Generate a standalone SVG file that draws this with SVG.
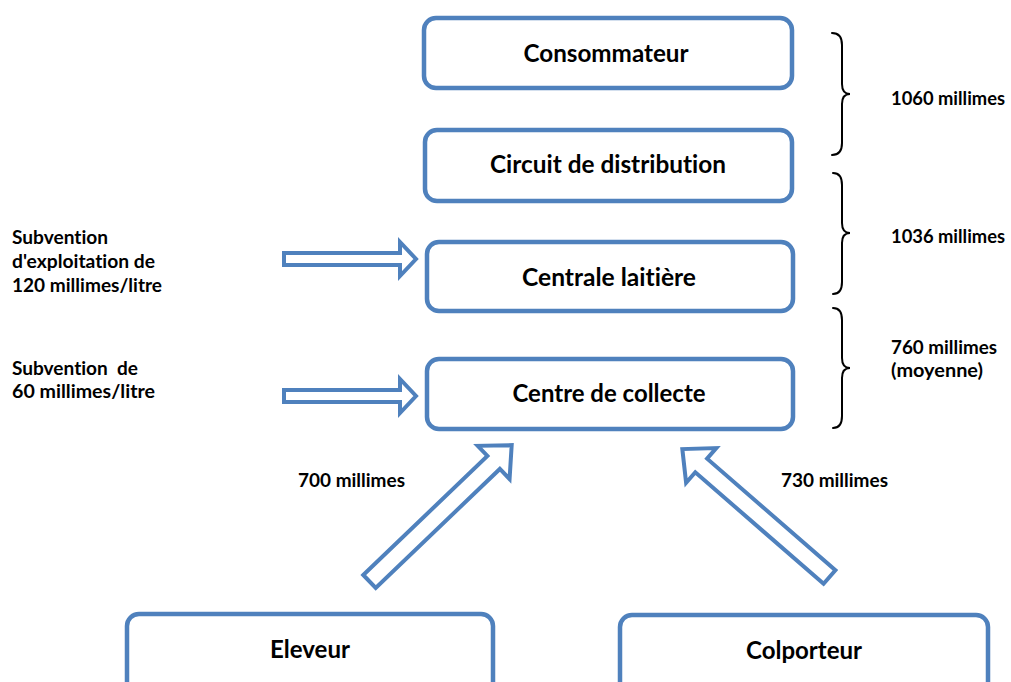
<svg xmlns="http://www.w3.org/2000/svg" width="1011" height="682" viewBox="0 0 1011 682">
  <style>
    .box { fill: #ffffff; stroke: #4F81BD; stroke-width: 4.5; }
    .arrow { fill: #ffffff; stroke: #4F81BD; stroke-width: 4; stroke-linejoin: miter; }
    .brace { fill: none; stroke: #000000; stroke-width: 2; stroke-linecap: round; }
    .lbl { font-family: Lato, "Liberation Sans", sans-serif; font-weight: bold; font-size: 24px; fill: #000000; font-variant-ligatures: none; }
    .side { font-family: Lato, "Liberation Sans", sans-serif; font-weight: bold; font-size: 18px; fill: #000000; font-variant-ligatures: none; }
  </style>

  <rect width="1011" height="682" fill="#ffffff"/>

  <!-- Nodes -->
  <g id="consommateur">
    <rect class="box" x="424" y="18" width="368" height="70" rx="12"/>
    <text class="lbl" x="606" y="62" text-anchor="middle" textLength="165" lengthAdjust="spacingAndGlyphs">Consommateur</text>
  </g>
  <g id="circuit-distribution">
    <rect class="box" x="425" y="130" width="367" height="71" rx="12"/>
    <text class="lbl" x="608" y="173" text-anchor="middle" textLength="236" lengthAdjust="spacingAndGlyphs">Circuit de distribution</text>
  </g>
  <g id="centrale-laitiere">
    <rect class="box" x="427" y="242" width="366" height="69" rx="12"/>
    <text class="lbl" x="609" y="286" text-anchor="middle" textLength="174" lengthAdjust="spacingAndGlyphs">Centrale laitière</text>
  </g>
  <g id="centre-collecte">
    <rect class="box" x="427" y="359" width="366" height="70" rx="12"/>
    <text class="lbl" x="609" y="402" text-anchor="middle" textLength="193" lengthAdjust="spacingAndGlyphs">Centre de collecte</text>
  </g>
  <g id="eleveur">
    <rect class="box" x="127" y="614" width="366" height="84" rx="12"/>
    <text class="lbl" x="310" y="658" text-anchor="middle" textLength="80" lengthAdjust="spacingAndGlyphs">Eleveur</text>
  </g>
  <g id="colporteur">
    <rect class="box" x="620" y="615" width="368" height="84" rx="12"/>
    <text class="lbl" x="804" y="659" text-anchor="middle" textLength="116" lengthAdjust="spacingAndGlyphs">Colporteur</text>
  </g>

  <!-- Connectors: block arrows -->
  <g id="connectors">
    <path class="arrow" d="M284,253 L400,253 L400,242 L416,259 L400,276 L400,265 L284,265 Z"/>
    <path class="arrow" d="M284,390 L400,390 L400,379 L416,396 L400,413 L400,402 L284,402 Z"/>
    <path class="arrow" transform="translate(369.5,581.5) rotate(-43.8)" d="M0,-9 L172,-9 L172,-23 L197,0 L172,23 L172,9 L0,9 Z"/>
    <path class="arrow" transform="translate(829.5,577) rotate(-139)" d="M0,-9 L170,-9 L170,-23 L195,0 L170,23 L170,9 L0,9 Z"/>
  </g>

  <!-- Price braces -->
  <g id="braces">
    <path class="brace" d="M832,33 Q842,33 842,45 L842,84 Q842,94 850,94 Q842,94 842,104 L842,143 Q842,155 832,155"/>
    <path class="brace" d="M833,173 Q842,173 842,185 L842,223 Q842,233 850,233 Q842,233 842,243 L842,282 Q842,294 833,294"/>
    <path class="brace" d="M833,308 Q842,308 842,320 L842,358 Q842,368 850,368 Q842,368 842,378 L842,416 Q842,428 833,428"/>
  </g>

  <!-- Annotations -->
  <g id="labels">
    <text class="side" x="12" y="244" textLength="96" lengthAdjust="spacingAndGlyphs">Subvention</text>
    <text class="side" x="12" y="268" textLength="143" lengthAdjust="spacingAndGlyphs">d'exploitation de</text>
    <text class="side" x="12" y="292" textLength="150" lengthAdjust="spacingAndGlyphs">120 millimes/litre</text>
    <text class="side" x="12" y="375" textLength="126" lengthAdjust="spacingAndGlyphs" xml:space="preserve">Subvention  de</text>
    <text class="side" x="12" y="398" textLength="143" lengthAdjust="spacingAndGlyphs">60 millimes/litre</text>

    <text class="side" x="891" y="105" textLength="114" lengthAdjust="spacingAndGlyphs">1060 millimes</text>
    <text class="side" x="891" y="243" textLength="114" lengthAdjust="spacingAndGlyphs">1036 millimes</text>
    <text class="side" x="891" y="354" textLength="106" lengthAdjust="spacingAndGlyphs">760 millimes</text>
    <text class="side" x="891" y="377" textLength="92" lengthAdjust="spacingAndGlyphs">(moyenne)</text>

    <text class="side" x="298" y="487" textLength="107" lengthAdjust="spacingAndGlyphs">700 millimes</text>
    <text class="side" x="781" y="487" textLength="107" lengthAdjust="spacingAndGlyphs">730 millimes</text>
  </g>
</svg>
